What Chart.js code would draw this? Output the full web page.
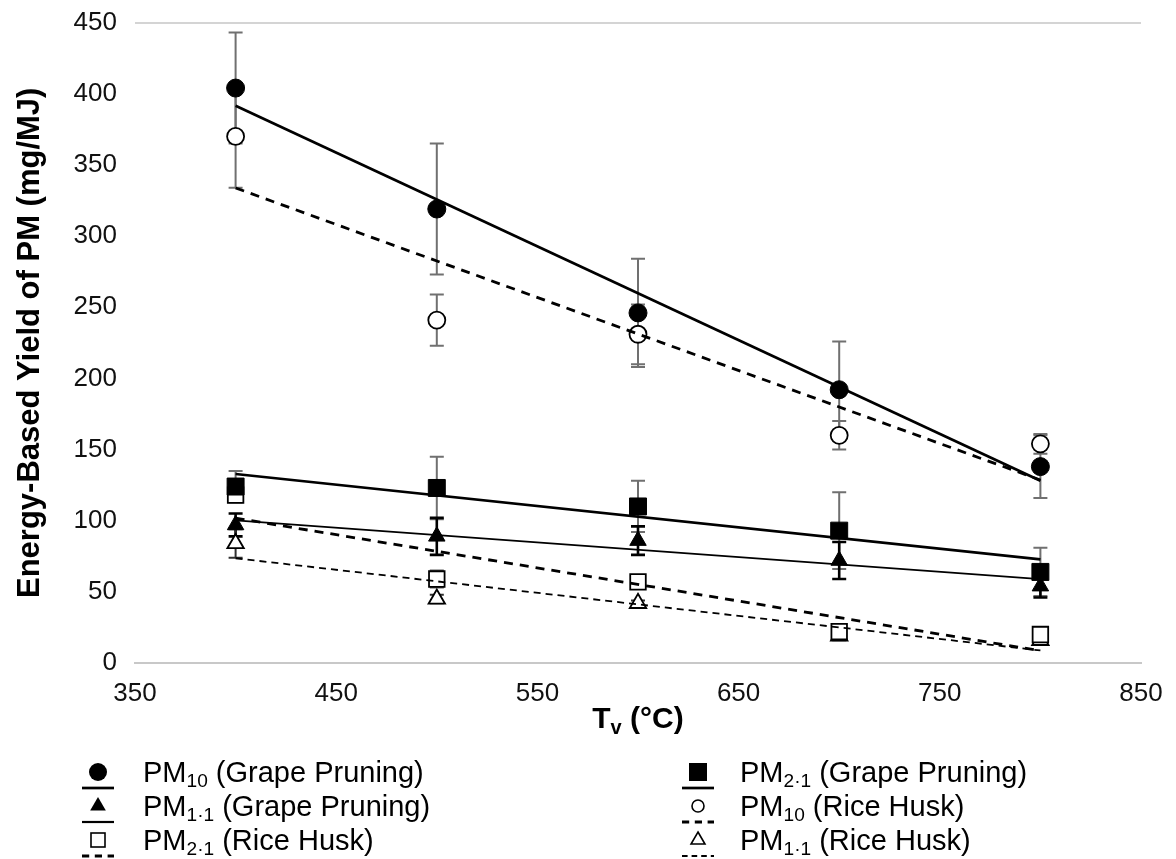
<!DOCTYPE html>
<html>
<head>
<meta charset="utf-8">
<script src="https://cdn.jsdelivr.net/npm/chart.js@4/dist/chart.umd.min.js"></script>
<style>
  body { margin: 0; background: #fff; font-family: "Liberation Sans", Arial, sans-serif; overflow: hidden; }
  #wrap { position: relative; width: 1176px; height: 859px; overflow: hidden; }
  #chart { position: absolute; left: 0; top: -11px; }
  .leg { position: absolute; height: 40px; display: flex; align-items: center; }
  .leg svg { position: absolute; top: 0; }
  .leg span { position: absolute; font-size: 29px; color: #000; white-space: nowrap; line-height: 40px; top: 0; }
  .leg sub { font-size: 0.66em; vertical-align: -0.28em; line-height: 0; }
</style>
</head>
<body>
<div id="wrap">
  <canvas id="chart" width="1176" height="870"></canvas>
  <div id="legend"></div>
</div>
<script>
// temperatures (x) and tick values
const temps = [400, 500, 600, 700, 800];
const xTicks = [350, 450, 550, 650, 750, 850];
const yTicks = [0, 50, 100, 150, 200, 250, 300, 350, 400, 450];

// energy-based yield (mg/MJ) and error bars
const pm10Grape = [404, 319, 246, 192, 138];
const pm10GrapeErr = [39, 46, 38, 34, 22];
const pm21Grape = [124, 123, 110, 93, 64];
const pm21GrapeErr = [11, 22, 18, 27, 17];
const pm11Grape = [97, 89, 86, 72, 54];
const pm11GrapeErr = [8, 13, 10, 13, 8];
const pm10Rice = [370, 241, 231, 160, 154];
const pm10RiceErr = [36, 18, 21, 10, 7];
const pm21Rice = [118, 59, 57, 22, 20];
const pm21RiceErr = [5, 6, 3, 3, 2];
const pm11Rice = [84, 45, 42, 19, 16];
const pm11RiceErr = [10, 3, 2, 3, 3];

const FONT = '"Liberation Sans", Arial, sans-serif';

const series = [
    { name: 'PM<sub>10</sub> (Grape Pruning)', values: pm10Grape, errors: pm10GrapeErr,
      shape: 'circle', filled: true, r: 9, lw: 2.7, dash: [], errColor: '#707070', errWidth: 2 },
    { name: 'PM<sub>2·1</sub> (Grape Pruning)', values: pm21Grape, errors: pm21GrapeErr,
      shape: 'rect', filled: true, r: 12, lw: 2.7, dash: [], errColor: '#707070', errWidth: 2 },
    { name: 'PM<sub>1·1</sub> (Grape Pruning)', values: pm11Grape, errors: pm11GrapeErr,
      shape: 'triangle', filled: true, r: 9.5, lw: 1.7, dash: [], errColor: '#000', errWidth: 2.6 },
    { name: 'PM<sub>10</sub> (Rice Husk)', values: pm10Rice, errors: pm10RiceErr,
      shape: 'circle', filled: false, r: 8.5, lw: 2.8, dash: [9, 7], errColor: '#707070', errWidth: 2 },
    { name: 'PM<sub>2·1</sub> (Rice Husk)', values: pm21Rice, errors: pm21RiceErr,
      shape: 'rect', filled: false, r: 11, lw: 2.8, dash: [9, 7], errColor: '#606060', errWidth: 2 },
    { name: 'PM<sub>1·1</sub> (Rice Husk)', values: pm11Rice, errors: pm11RiceErr,
      shape: 'triangle', filled: false, r: 9.5, lw: 1.8, dash: [7, 5], errColor: '#303030', errWidth: 2 }
];

// least-squares trendline between first and last temperature
function trend(ys) {
    const n = temps.length;
    const mx = temps.reduce((a, b) => a + b, 0) / n;
    const my = ys.reduce((a, b) => a + b, 0) / n;
    let sxy = 0, sxx = 0;
    temps.forEach((t, i) => { sxy += (t - mx) * (ys[i] - my); sxx += (t - mx) * (t - mx); });
    const b = sxy / sxx;
    const x0 = temps[0], x1 = temps[n - 1];
    return [{ x: x0, y: my + b * (x0 - mx) }, { x: x1, y: my + b * (x1 - mx) }];
}

const datasets = [];
series.forEach(s => {
    datasets.push({
        type: 'scatter',
        data: temps.map((t, i) => ({ x: t, y: s.values[i] })),
        errors: s.errors,
        errColor: s.errColor,
        errWidth: s.errWidth,
        pointStyle: s.shape,
        pointRadius: s.r,
        pointBackgroundColor: s.filled ? '#000' : '#fff',
        pointBorderColor: '#000',
        pointBorderWidth: s.filled ? 1 : 1.8,
        showLine: false,
        order: 1
    });
    datasets.push({
        type: 'scatter',
        data: trend(s.values),
        showLine: true,
        borderColor: '#000',
        borderWidth: s.lw,
        borderDash: s.dash,
        pointRadius: 0,
        order: 0
    });
});

const errorBars = {
    id: 'errorBars',
    beforeDatasetsDraw(chart) {
        const { ctx, scales: { x, y } } = chart;
        chart.data.datasets.forEach(ds => {
            if (!ds.errors) return;
            ctx.save();
            ctx.strokeStyle = ds.errColor;
            ctx.lineWidth = ds.errWidth;
            ds.data.forEach((p, j) => {
                const px = x.getPixelForValue(p.x);
                const top = y.getPixelForValue(p.y + ds.errors[j]);
                const bot = y.getPixelForValue(p.y - ds.errors[j]);
                ctx.beginPath();
                ctx.moveTo(px, top); ctx.lineTo(px, bot);
                ctx.moveTo(px - 7, top); ctx.lineTo(px + 7, top);
                ctx.moveTo(px - 7, bot); ctx.lineTo(px + 7, bot);
                ctx.stroke();
            });
            ctx.restore();
        });
    }
};

// x axis title with subscript
const xTitle = {
    id: 'xTitle',
    afterDraw(chart) {
        const { ctx, chartArea } = chart;
        const cx = (chartArea.left + chartArea.right) / 2;
        const y = chartArea.bottom + 65;
        const big = 'bold 30px ' + FONT, small = 'bold 20px ' + FONT;
        ctx.save();
        ctx.fillStyle = '#000';
        ctx.textBaseline = 'alphabetic';
        ctx.font = big;
        const wT = ctx.measureText('T').width, wR = ctx.measureText(' (°C)').width;
        ctx.font = small;
        const wV = ctx.measureText('v').width;
        let x = cx - (wT + wV + wR) / 2;
        ctx.font = big; ctx.fillText('T', x, y); x += wT;
        ctx.font = small; ctx.fillText('v', x, y + 6); x += wV;
        ctx.font = big; ctx.fillText(' (°C)', x, y);
        ctx.restore();
    }
};

new Chart(document.getElementById('chart'), {
    type: 'scatter',
    data: { datasets },
    options: {
        responsive: false,
        animation: false,
        layout: { padding: { top: 10, right: 35, left: 0, bottom: 0 } },
        plugins: { legend: { display: false }, tooltip: { enabled: false } },
        scales: {
            x: {
                type: 'linear', min: 350, max: 850,
                afterBuildTicks: s => { s.ticks = xTicks.map(v => ({ value: v })); },
                afterFit: s => { s.height = 196; },
                grid: { display: false },
                border: { display: true, color: '#c8c8c8', width: 2 },
                ticks: { font: { family: FONT, size: 26 }, color: '#111', padding: 7, maxRotation: 0 }
            },
            y: {
                min: 0, max: 450,
                afterBuildTicks: s => { s.ticks = yTicks.map(v => ({ value: v })); },
                afterFit: s => { s.width = 135; },
                grid: {
                    drawTicks: false,
                    color: c => (c.tick && c.tick.value === 450) ? '#d4d4d4' : 'rgba(0,0,0,0)',
                    lineWidth: 2
                },
                border: { display: false },
                ticks: { font: { family: FONT, size: 26 }, color: '#111', padding: 18 },
                title: {
                    display: true,
                    text: 'Energy-Based Yield of PM (mg/MJ)',
                    font: { family: FONT, size: 31, weight: 'bold' },
                    color: '#000',
                    padding: { top: 12, bottom: 0 }
                }
            }
        }
    },
    plugins: [errorBars, xTitle]
});

// legend (HTML for subscripts)
function markerSvg(s) {
    const cx = 20, cy = 14;
    const fill = s.filled ? '#000' : '#fff';
    const sw = s.filled ? 0 : 1.6;
    let m;
    if (s.shape === 'circle') {
        m = `<circle cx="${cx}" cy="${cy}" r="${s.filled ? 9 : 6}" fill="${fill}" stroke="#000" stroke-width="${sw}"/>`;
    } else if (s.shape === 'rect') {
        const h = s.filled ? 9 : 7;
        m = `<rect x="${cx - h}" y="${cy - h}" width="${2 * h}" height="${2 * h}" fill="${fill}" stroke="#000" stroke-width="${sw}"/>`;
    } else {
        const r = s.filled ? 9 : 8;
        m = `<polygon points="${cx},${cy - r} ${cx + 0.87 * r},${cy + 0.5 * r} ${cx - 0.87 * r},${cy + 0.5 * r}" fill="${fill}" stroke="#000" stroke-width="${sw}"/>`;
    }
    const dash = s.dash.length ? `stroke-dasharray="${s.dash.map(d => d * 0.8).join(' ')}"` : '';
    const line = `<line x1="4" y1="30" x2="36" y2="30" stroke="#000" stroke-width="${Math.max(s.lw, 2.2)}" ${dash}/>`;
    return `<svg width="40" height="40">${m}${line}</svg>`;
}

const legendOrder = [0, 1, 2, 3, 4, 5];
const rowTops = [758, 792, 826];
const colX = [78, 678];
const legendEl = document.getElementById('legend');
legendOrder.forEach((si, k) => {
    const s = series[si];
    const row = Math.floor(k / 2), col = k % 2;
    const div = document.createElement('div');
    div.className = 'leg';
    div.style.left = colX[col] + 'px';
    div.style.top = rowTops[row] + 'px';
    div.innerHTML = markerSvg(s) + `<span style="left:${col ? 62 : 65}px;top:-6px">${s.name}</span>`;
    legendEl.appendChild(div);
});
</script>
</body>
</html>
